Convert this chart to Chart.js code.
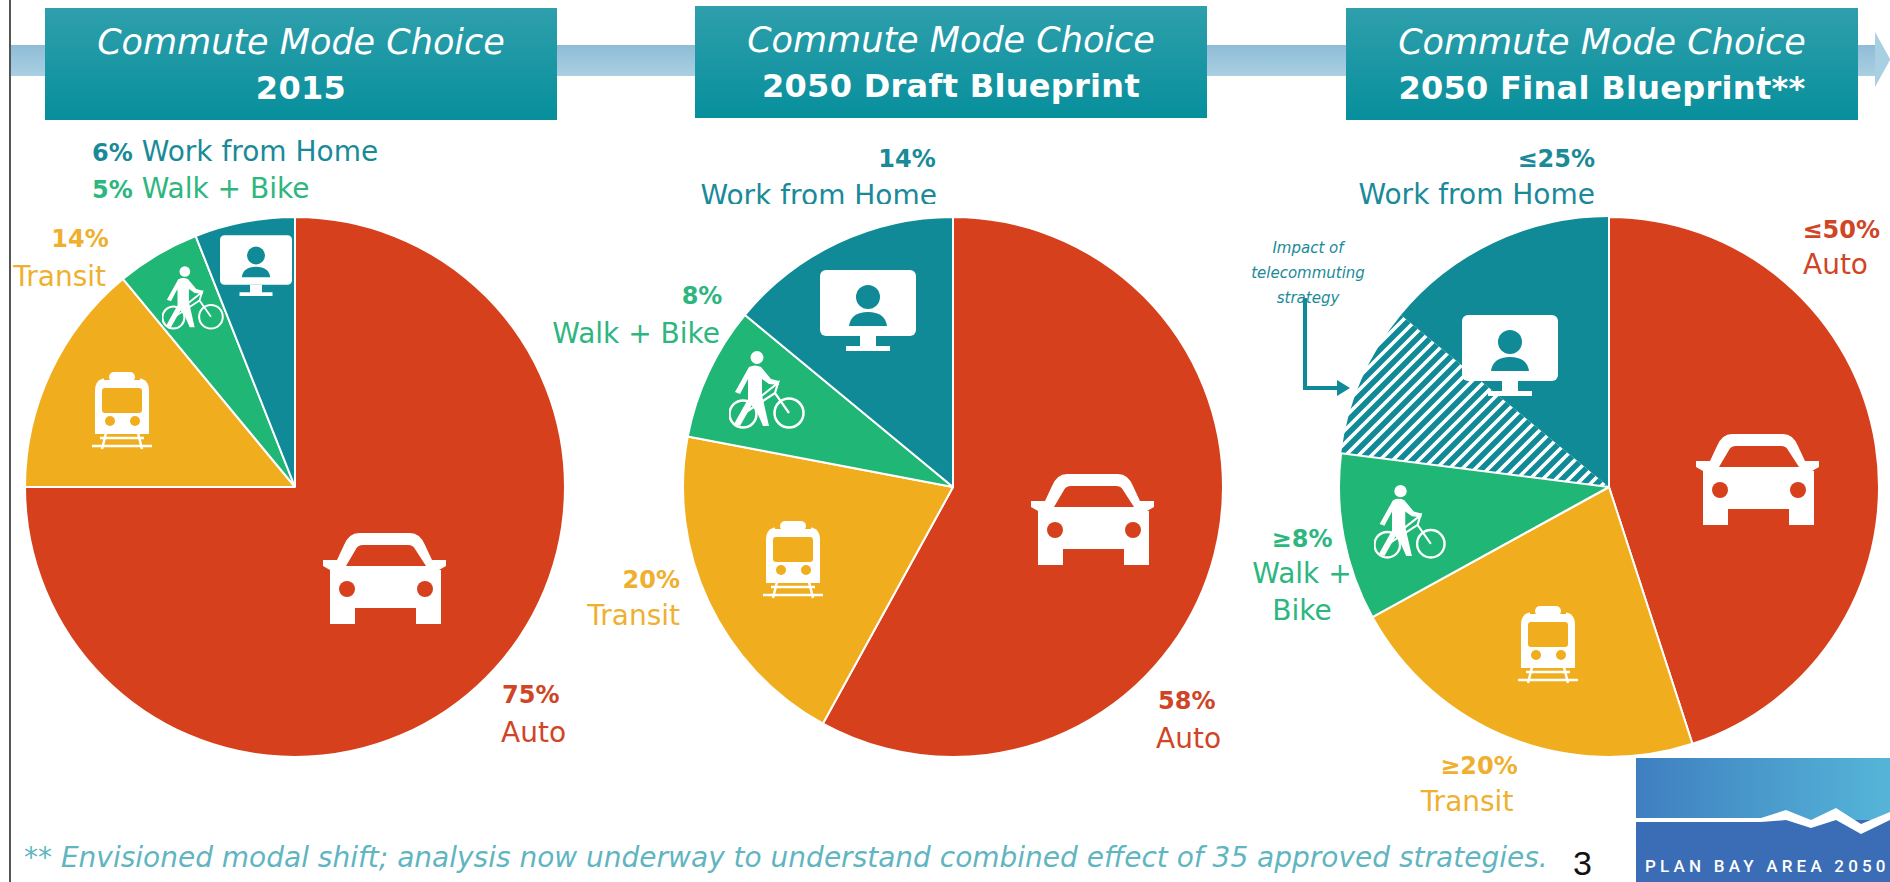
<!DOCTYPE html>
<html>
<head>
<meta charset="utf-8">
<title>Commute Mode Choice</title>
<script src="https://cdn.jsdelivr.net/npm/chart.js@4"></script>
<style>
html, body { margin: 0; padding: 0; background: #fff; }
body { width: 1890px; height: 882px; position: relative; overflow: hidden; font-family: "DejaVu Sans", sans-serif; }
.edge { position: absolute; left: 9px; top: 0; width: 2px; height: 882px; background: #555; }
.band { position: absolute; left: 11px; top: 45px; width: 1864px; height: 31px; background: linear-gradient(#8fbdd6, #a9cfe2); }
.head { position: absolute; width: 512px; height: 112px; background: linear-gradient(#2f9fac, #078f9c); color: #fff; text-align: center; font-size: 35px; line-height: 46px; padding-top: 11px; box-sizing: border-box; }
.head i { display: block; }
.head b { display: block; font-weight: 700; font-size: 32px; letter-spacing: .3px; }
.pie { position: absolute; }
.lbl { position: absolute; font-size: 28px; white-space: nowrap; line-height: 30px; }
.lbl b { font-size: 24px; }
.ico { position: absolute; overflow: visible; }
.note { position: absolute; left: 24px; top: 840px; font-size: 28px; font-style: italic; color: #5fb5c0; white-space: nowrap; line-height: 36px; }
.page { position: absolute; left: 1573px; top: 846px; font-family: "Liberation Sans", sans-serif; font-size: 34px; color: #111; line-height: 34px; }
</style>
</head>
<body>
<div class="edge"></div>
<div class="band"></div>
<svg class="ico" style="left:1875px;top:32px" width="15" height="55"><polygon points="0,0 15,27 15,28 0,55" fill="#a9cfe2"/></svg>

<div class="head" style="left:45px;top:8px"><i>Commute Mode Choice</i><b>2015</b></div>
<div class="head" style="left:695px;top:6px"><i>Commute Mode Choice</i><b>2050 Draft Blueprint</b></div>
<div class="head" style="left:1346px;top:8px"><i>Commute Mode Choice</i><b>2050 Final Blueprint**</b></div>

<div id="labels"></div>

<canvas id="pie2015" class="pie" width="542" height="542" style="left:24px;top:216px"></canvas>
<canvas id="pieDraft" class="pie" width="542" height="542" style="left:682px;top:216px"></canvas>
<canvas id="pieFinal" class="pie" width="542" height="542" style="left:1338px;top:216px"></canvas>

<svg width="0" height="0" style="position:absolute">
  <symbol id="car" viewBox="0 0 123 91">
    <path fill="#fff" d="M0 27H14L21 12Q26 0 36 0H87Q97 0 102 12L109 27H123V33L116 37H118V91H93V75H32V91H7V37H7L0 33Z"/>
    <path fill="currentColor" d="M23 33 33 16Q35 12 40 12H85Q90 12 92 16L103 33Z"/>
    <circle cx="24" cy="56" r="8" fill="currentColor"/><circle cx="102" cy="56" r="8" fill="currentColor"/>
  </symbol>
  <symbol id="train" viewBox="0 0 60 80">
    <path fill="#fff" d="M3 20Q3 8 14 7H46Q57 8 57 20V63H3Z"/>
    <path fill="currentColor" d="M12 4H48V9H12Z"/>
    <rect x="17" y="1" width="26" height="10" rx="5" fill="#fff"/>
    <rect x="10" y="17" width="40" height="25" rx="3" fill="currentColor"/>
    <circle cx="18" cy="50" r="5" fill="currentColor"/><circle cx="43" cy="50" r="5" fill="currentColor"/>
    <path stroke="#fff" stroke-width="2.5" fill="none" d="M0 75H60M8 67H52M14 62 10 78M46 62 50 78"/>
  </symbol>
  <symbol id="walker" viewBox="0 0 76 78">
    <circle cx="28" cy="6.5" r="6.5" fill="#fff"/>
    <path fill="#fff" d="M20 16Q26 13 32 16L42 28 50 30V34L40 33 33 28V44L40 75H34L24 52 11 75 5 73 19 48V28L11 43 6 41Z"/>
    <circle cx="14" cy="63" r="13.5" fill="none" stroke="#fff" stroke-width="2.5"/>
    <circle cx="60" cy="62" r="14.5" fill="none" stroke="#fff" stroke-width="2.5"/>
    <path stroke="#fff" stroke-width="2.2" fill="none" d="M14 63 46 42 60 62M26 50 49 32 46 42"/>
  </symbol>
  <symbol id="monitor" viewBox="0 0 96 82">
    <rect x="0" y="0" width="96" height="66" rx="6" fill="#fff"/>
    <circle cx="48" cy="27" r="12" fill="currentColor"/>
    <path fill="currentColor" d="M29 56Q31 42 48 42Q65 42 67 56Z"/>
    <path fill="#fff" d="M40 66H56V76H40ZM26 76H70V81H26Z"/>
  </symbol>
</svg>
<div id="icons"></div>

<!-- flecha del telecommuting -->
<svg class="ico" style="left:1290px;top:290px" width="70" height="110">
  <path d="M15 8V98H50" fill="none" stroke="#0f8a96" stroke-width="4"/>
  <polygon points="47,90 60,98 47,106" fill="#0f8a96"/>
</svg>

<div class="note">** Envisioned modal shift; analysis now underway to understand combined effect of 35 approved strategies.</div>
<div class="page">3</div>

<!-- logo -->
<svg class="ico" style="left:1636px;top:758px" width="254" height="124">
  <defs>
    <linearGradient id="cielo" x1="0" y1="0" x2="1" y2="0"><stop offset="0" stop-color="#3f7fc0"/><stop offset="1" stop-color="#55b5d8"/></linearGradient>
  </defs>
  <rect width="254" height="62" fill="url(#cielo)"/>
  <rect y="62" width="254" height="62" fill="#3a6db5"/>
  <path d="M0 60H125L150 52 175 62 200 50 225 66 254 54V62L225 76 200 62 175 70 150 62 125 64H0Z" fill="#fff"/>
  <text x="9" y="114" font-family="Roboto" font-size="17" font-weight="500" letter-spacing="4.2" fill="#fff">PLAN BAY AREA 2050</text>
</svg>

<script>
// Datos
const categorias2015 = ['Auto', 'Transit', 'Walk + Bike', 'Work from Home'];
const valores2015 = [75, 14, 5, 6];
const categoriasDraft = ['Auto', 'Transit', 'Walk + Bike', 'Work from Home'];
const valoresDraft = [58, 20, 8, 14];
// el ultimo plano arranca en el sector rayado, asi los bordes blancos quedan encima
const categoriasFinal = ['Telecommuting strategy', 'Work from Home', 'Auto', 'Transit', 'Walk + Bike'];
const valoresFinal = [9, 14, 45, 22, 10];
const rotacionFinal = 277.2;

const colorAuto = '#d6401c';
const colorTransit = '#f0ae1e';
const colorWalk = '#20b675';
const colorWfh = '#0f8a96';

const txtAuto = '#cf4526';
const txtTransit = '#efb02f';
const txtWalk = '#2eb67f';
const txtWfh = '#1a8a99';

function rayado() {
    const c = document.createElement('canvas');
    c.width = 13; c.height = 13;
    const g = c.getContext('2d');
    g.fillStyle = colorWfh;
    g.fillRect(0, 0, 13, 13);
    g.strokeStyle = '#fff';
    g.lineWidth = 3.6;
    g.beginPath();
    g.moveTo(-2, 15); g.lineTo(15, -2);
    g.moveTo(-2, 2); g.lineTo(2, -2);
    g.moveTo(11, 15); g.lineTo(15, 11);
    g.stroke();
    return g.createPattern(c, 'repeat');
}

function crearTorta(id, labels, data, colores, anchos, rotacion) {
    new Chart(document.getElementById(id), {
        type: 'pie',
        data: {
            labels: labels,
            datasets: [{
                data: data,
                backgroundColor: colores,
                borderColor: '#fff',
                borderWidth: anchos
            }]
        },
        options: {
            responsive: false,
            animation: false,
            rotation: rotacion,
            plugins: { legend: { display: false }, tooltip: { enabled: false } }
        }
    });
}

crearTorta('pie2015', categorias2015, valores2015, [colorAuto, colorTransit, colorWalk, colorWfh], 2, 0);
crearTorta('pieDraft', categoriasDraft, valoresDraft, [colorAuto, colorTransit, colorWalk, colorWfh], 2, 0);
crearTorta('pieFinal', categoriasFinal, valoresFinal, [rayado(), colorWfh, colorAuto, colorTransit, colorWalk], [0, 0, 2, 2, 2], rotacionFinal);

// etiquetas: x, y centro del texto; a = l / c / r
function lbl(txt, x, y, a, color, extra) {
    const d = document.createElement('div');
    d.className = 'lbl';
    d.innerHTML = txt;
    const tx = a === 'c' ? '-50%' : (a === 'r' ? '-100%' : '0');
    d.style.cssText = `left:${x}px;top:${y}px;color:${color};transform:translate(${tx},-50%);${extra || ''}`;
    document.getElementById('labels').appendChild(d);
}

lbl(`<b>${valores2015[3]}%</b> Work from Home`, 92, 152, 'l', txtWfh);
lbl(`<b>${valores2015[2]}%</b> Walk + Bike`, 92, 189, 'l', txtWalk);
lbl(`<b>${valores2015[1]}%</b>`, 80, 238, 'c', txtTransit);
lbl('Transit', 106, 277, 'r', txtTransit);
lbl(`<b>${valores2015[0]}%</b>`, 502, 694, 'l', txtAuto);
lbl('Auto', 501, 733, 'l', txtAuto);

lbl(`<b>${valoresDraft[3]}%</b>`, 907, 158, 'c', txtWfh);
lbl('Work from Home', 937, 196, 'r', txtWfh, 'clip-path:inset(0 0 7px 0);');
lbl(`<b>${valoresDraft[2]}%</b>`, 702, 295, 'c', txtWalk);
lbl('Walk + Bike', 720, 334, 'r', txtWalk);
lbl(`<b>${valoresDraft[1]}%</b>`, 680, 579, 'r', txtTransit);
lbl('Transit', 680, 616, 'r', txtTransit);
lbl(`<b>${valoresDraft[0]}%</b>`, 1158, 700, 'l', txtAuto);
lbl('Auto', 1156, 739, 'l', txtAuto);

lbl('<b>≤25%</b>', 1595, 158, 'r', txtWfh);
lbl('Work from Home', 1595, 195, 'r', txtWfh);
lbl('<b>≤50%</b>', 1880, 229, 'r', txtAuto);
lbl('Auto', 1868, 265, 'r', txtAuto);
lbl('<b>≥8%</b>', 1302, 538, 'c', txtWalk);
lbl('Walk +', 1302, 574, 'c', txtWalk);
lbl('Bike', 1302, 611, 'c', txtWalk);
lbl('<b>≥20%</b>', 1479, 765, 'c', txtTransit);
lbl('Transit', 1467, 802, 'c', txtTransit);
const it = 'font-size:15px;font-style:italic;line-height:20px;';
lbl('Impact of', 1308, 248, 'c', txtWfh, it);
lbl('telecommuting', 1308, 273, 'c', txtWfh, it);
lbl('strategy', 1308, 298, 'c', txtWfh, it);

// iconos: centro y ancho
function icono(id, cx, cy, w, h, color) {
    document.getElementById('icons').insertAdjacentHTML('beforeend',
        `<svg class="ico" style="left:${cx - w / 2}px;top:${cy - h / 2}px;color:${color}" width="${w}" height="${h}"><use href="#${id}"/></svg>`);
}
icono('car', 384, 578, 123, 91, colorAuto);
icono('train', 122, 411, 60, 80, colorTransit);
icono('walker', 193, 298, 62, 64, colorWalk);
icono('monitor', 256, 266, 72, 62, colorWfh);
icono('car', 1092, 519, 123, 91, colorAuto);
icono('train', 793, 560, 60, 80, colorTransit);
icono('walker', 767, 390, 76, 78, colorWalk);
icono('monitor', 868, 311, 96, 82, colorWfh);
icono('car', 1757, 479, 123, 91, colorAuto);
icono('train', 1548, 645, 60, 80, colorTransit);
icono('walker', 1410, 522, 72, 74, colorWalk);
icono('monitor', 1510, 356, 96, 82, colorWfh);
</script>
</body>
</html>
